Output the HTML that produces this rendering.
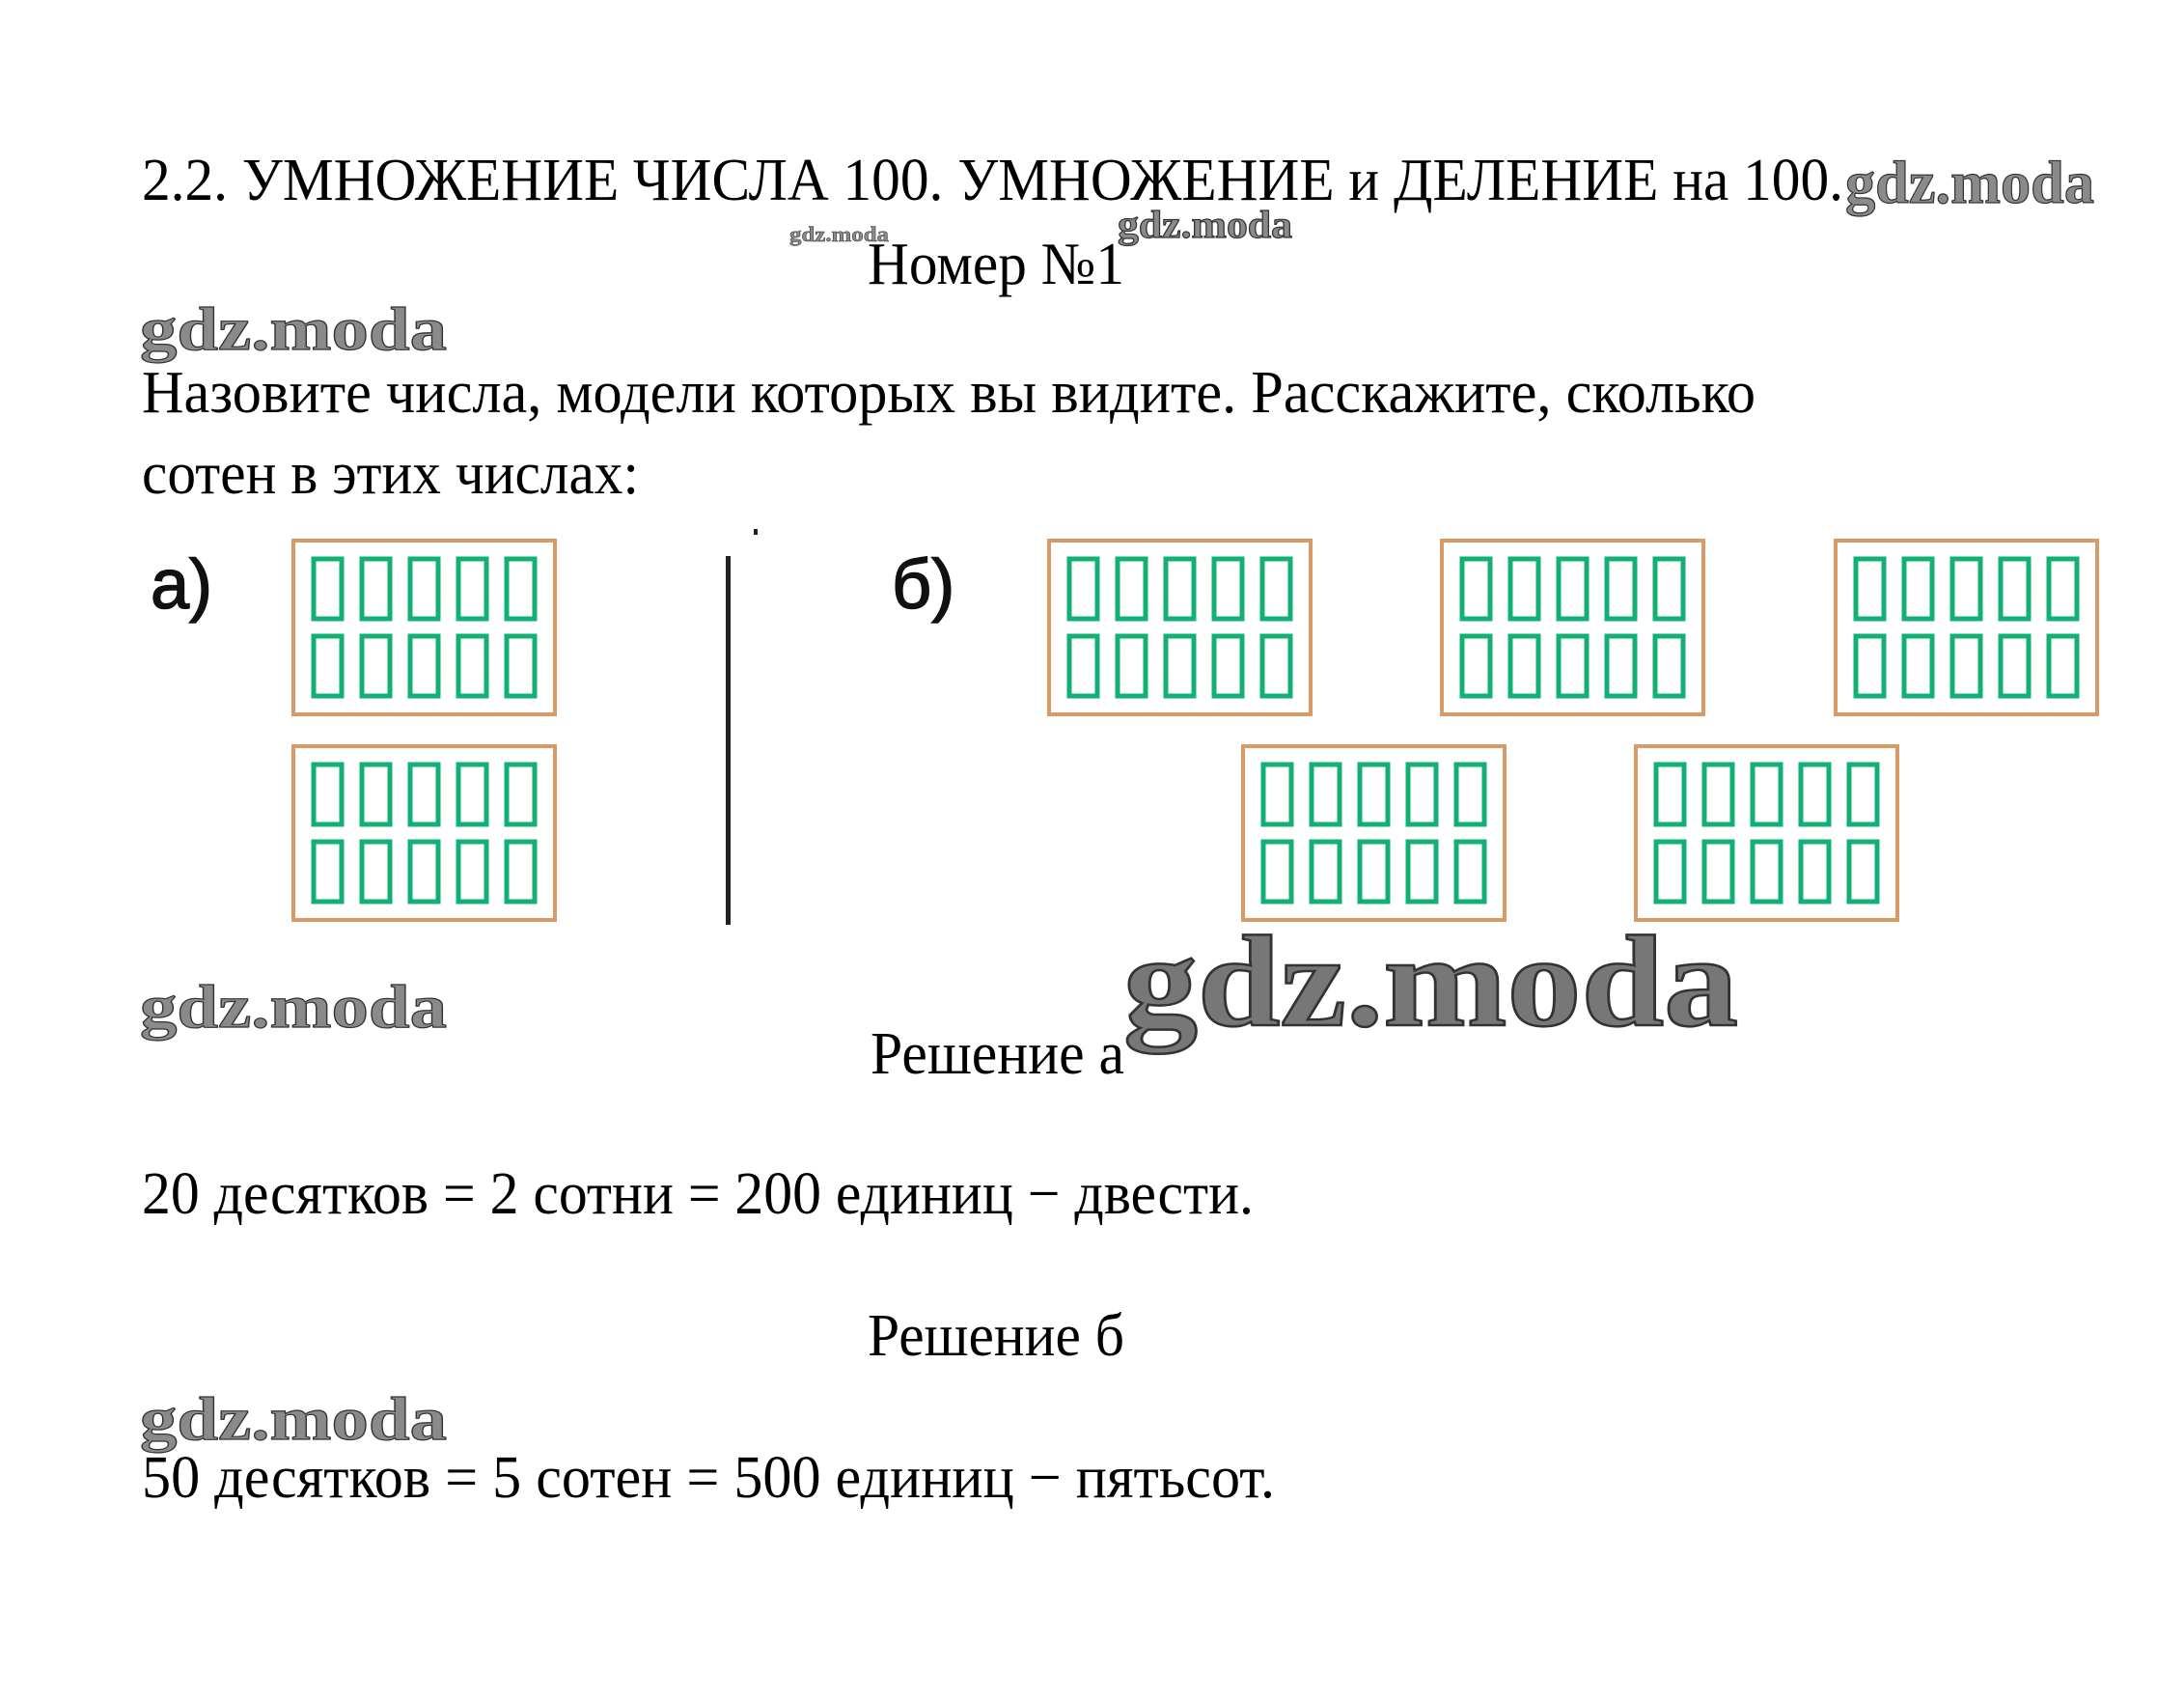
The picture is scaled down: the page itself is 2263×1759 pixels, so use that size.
<!DOCTYPE html>
<html><head><meta charset="utf-8"><style>html,body{margin:0;padding:0;background:#fff}svg{display:block}</style></head>
<body>
<svg width="2263" height="1759" viewBox="0 0 2263 1759" xmlns="http://www.w3.org/2000/svg">
<defs>
<g id="box">
<rect x="0" y="0" width="271" height="180" fill="#fff" stroke="#d89a66" stroke-width="4"/>
<g fill="none" stroke="#12b075" stroke-width="5">
<rect x="21" y="19" width="29" height="62"/><rect x="71" y="19" width="29" height="62"/><rect x="121" y="19" width="29" height="62"/><rect x="171" y="19" width="29" height="62"/><rect x="221" y="19" width="29" height="62"/>
<rect x="21" y="99" width="29" height="62"/><rect x="71" y="99" width="29" height="62"/><rect x="121" y="99" width="29" height="62"/><rect x="171" y="99" width="29" height="62"/><rect x="221" y="99" width="29" height="62"/>
</g>
</g>
</defs>
<g font-family="'Liberation Serif', serif" font-size="62" fill="#000">
<text x="147" y="207" textLength="1763" lengthAdjust="spacingAndGlyphs">2.2. УМНОЖЕНИЕ ЧИСЛА 100. УМНОЖЕНИЕ и ДЕЛЕНИЕ на 100.</text>
<text x="899" y="294" textLength="266" lengthAdjust="spacingAndGlyphs">Номер №1</text>
<text x="147" y="427" textLength="1672" lengthAdjust="spacingAndGlyphs">Назовите числа, модели которых вы видите. Расскажите, сколько</text>
<text x="147" y="511" textLength="515" lengthAdjust="spacingAndGlyphs">сотен в этих числах:</text>
<text x="902" y="1112" textLength="263" lengthAdjust="spacingAndGlyphs">Решение а</text>
<text x="147" y="1257" textLength="1152" lengthAdjust="spacingAndGlyphs">20 десятков = 2 сотни = 200 единиц − двести.</text>
<text x="899" y="1404" textLength="266" lengthAdjust="spacingAndGlyphs">Решение б</text>
<text x="147" y="1551" textLength="1174" lengthAdjust="spacingAndGlyphs">50 десятков = 5 сотен = 500 единиц − пятьсот.</text>
</g>
<g font-family="'Liberation Serif', serif" font-weight="bold" fill="#8a8a8a" stroke="#333" stroke-width="1.2">
<text x="1912" y="210" font-size="62" textLength="258" lengthAdjust="spacingAndGlyphs">gdz.moda</text>
<text x="818" y="250" font-size="22" textLength="103" lengthAdjust="spacingAndGlyphs" stroke-width="0.5">gdz.moda</text>
<text x="1158" y="246" font-size="40" textLength="181" lengthAdjust="spacingAndGlyphs">gdz.moda</text>
<text x="145" y="362" font-size="64" textLength="318" lengthAdjust="spacingAndGlyphs">gdz.moda</text>
<text x="145" y="1064" font-size="64" textLength="318" lengthAdjust="spacingAndGlyphs">gdz.moda</text>
<text x="145" y="1491" font-size="64" textLength="318" lengthAdjust="spacingAndGlyphs">gdz.moda</text>
<text x="1164" y="1062" font-size="135" textLength="637" lengthAdjust="spacingAndGlyphs" stroke-width="2.5" fill="#777">gdz.moda</text>
</g>
<g font-family="'Liberation Sans', 'DejaVu Sans', sans-serif" font-size="72" fill="#111" stroke="#111" stroke-width="1.5">
<text x="156" y="630">a)</text>
<text x="924" y="630">б)</text>
</g>
<use href="#box" x="304" y="560"/>
<use href="#box" x="304" y="773"/>
<use href="#box" x="1087" y="560"/>
<use href="#box" x="1494" y="560"/>
<use href="#box" x="1902" y="560"/>
<use href="#box" x="1288" y="773"/>
<use href="#box" x="1695" y="773"/>
<rect x="752" y="576" width="5" height="382" fill="#222"/>
<rect x="781" y="548" width="4" height="6" fill="#222"/>
</svg>
</body></html>
